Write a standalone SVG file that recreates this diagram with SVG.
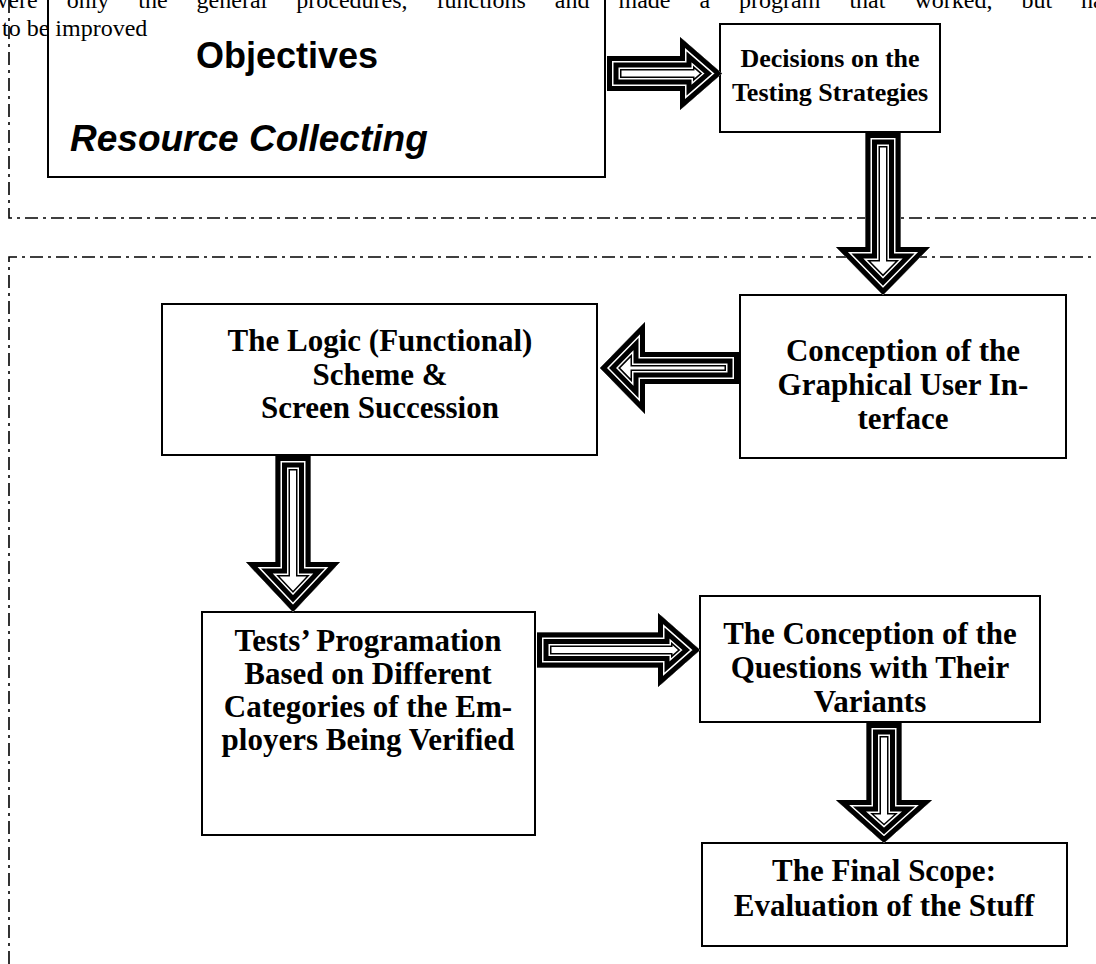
<svg xmlns="http://www.w3.org/2000/svg" width="1096" height="964" viewBox="0 0 1096 964">
<style>
.bg{fill:#fff}
.box{fill:#fff;stroke:#000;stroke-width:2}
.open{fill:none;stroke:#000;stroke-width:2}
.dd{fill:none;stroke:#000;stroke-width:1.6;stroke-dasharray:13 5 3 5}
.body{font-family:"Liberation Serif","Times New Roman",serif;font-size:24px;fill:#000}
.t{font-family:"Liberation Serif","Times New Roman",serif;font-size:31px;font-weight:bold;fill:#000;text-anchor:middle}
.ts{font-family:"Liberation Serif","Times New Roman",serif;font-size:26px;font-weight:bold;fill:#000;text-anchor:middle}
.obj{font-family:"Liberation Sans",Arial,sans-serif;font-weight:bold;fill:#000}
.a0{fill:#fff;stroke:none}
.a1{fill:none;stroke:#000;stroke-width:29;stroke-linejoin:miter;stroke-miterlimit:10}
.a2{fill:none;stroke:#fff;stroke-width:26;stroke-linejoin:miter;stroke-miterlimit:10}
.a3{fill:none;stroke:#000;stroke-width:23;stroke-linejoin:miter;stroke-miterlimit:10}
.a4{fill:none;stroke:#fff;stroke-width:13;stroke-linejoin:miter;stroke-miterlimit:10}
.a5{fill:none;stroke:#000;stroke-width:10;stroke-linejoin:miter;stroke-miterlimit:10}
</style>
<defs>
<polygon id="p1" points="607,56 680,56 680,37 722,73.5 680,110 680,91 607,91"/>
<polygon id="p2" points="865.5,133 900.5,133 900.5,247 930,247 883,295 836,247 865.5,247"/>
<polygon id="p3" points="739,352 645,352 645,322 600,368 645,414 645,384 739,384"/>
<polygon id="p4" points="275.5,456 310.5,456 310.5,562 340,562 293,612 246,562 275.5,562"/>
<polygon id="p5" points="537,632.5 658,632.5 658,613 700,650 658,687 658,667.5 537,667.5"/>
<polygon id="p6" points="866.5,723 901.5,723 901.5,800 932,800 884,843 836,800 866.5,800"/>
<clipPath id="c1"><use href="#p1"/></clipPath>
<clipPath id="c2"><use href="#p2"/></clipPath>
<clipPath id="c3"><use href="#p3"/></clipPath>
<clipPath id="c4"><use href="#p4"/></clipPath>
<clipPath id="c5"><use href="#p5"/></clipPath>
<clipPath id="c6"><use href="#p6"/></clipPath>
</defs>
<rect class="bg" x="0" y="0" width="1096" height="964"/>

<g id="sections">
<path class="dd" d="M9,0 V218 H1096"/>
<path class="dd" d="M9,964 V257 H1096"/>
</g>

<g id="node-objectives">
<rect class="open" x="48" y="-10" width="557" height="187"/>
<text class="obj" x="287" y="68" font-size="36" text-anchor="middle">Objectives</text>
<text class="obj" x="70" y="151" font-size="37" font-style="italic">Resource Collecting</text>
</g>

<g id="intro-text">
<text class="body" x="-9" y="8" word-spacing="23">were only the general procedures, functions and made a program that worked, but had</text>
<text class="body" x="2" y="36">to be improved</text>
</g>

<g id="node-decisions">
<rect class="box" x="720" y="24" width="220" height="108"/>
<text class="ts" x="830" y="67">Decisions on the</text>
<text class="ts" x="830" y="101">Testing Strategies</text>
</g>

<g id="node-conception-gui">
<rect class="box" x="740" y="295" width="326" height="163"/>
<text class="t" x="903" y="361">Conception of the</text>
<text class="t" x="903" y="395">Graphical User In-</text>
<text class="t" x="903" y="429">terface</text>
</g>

<g id="node-logic">
<rect class="box" x="162" y="304" width="435" height="151"/>
<text class="t" x="380" y="351">The Logic (Functional)</text>
<text class="t" x="380" y="385">Scheme &amp;</text>
<text class="t" x="380" y="418">Screen Succession</text>
</g>

<g id="node-tests">
<rect class="box" x="202" y="612" width="333" height="223"/>
<text class="t" x="368" y="651">Tests’ Programation</text>
<text class="t" x="368" y="684">Based on Different</text>
<text class="t" x="368" y="717">Categories of the Em-</text>
<text class="t" x="368" y="750">ployers Being Verified</text>
</g>

<g id="node-questions">
<rect class="box" x="700" y="596" width="340" height="126"/>
<text class="t" x="870" y="644">The Conception of the</text>
<text class="t" x="870" y="678">Questions with Their</text>
<text class="t" x="870" y="712">Variants</text>
</g>

<g id="node-final">
<rect class="box" x="702" y="843" width="365" height="103"/>
<text class="t" x="884" y="881">The Final Scope:</text>
<text class="t" x="884" y="916">Evaluation of the Stuff</text>
</g>

<g id="connectors">
<g clip-path="url(#c1)"><use href="#p1" class="a0"/><use href="#p1" class="a1"/><use href="#p1" class="a2"/><use href="#p1" class="a3"/><use href="#p1" class="a4"/><use href="#p1" class="a5"/></g>
<g clip-path="url(#c2)"><use href="#p2" class="a0"/><use href="#p2" class="a1"/><use href="#p2" class="a2"/><use href="#p2" class="a3"/><use href="#p2" class="a4"/><use href="#p2" class="a5"/></g>
<g clip-path="url(#c3)"><use href="#p3" class="a0"/><use href="#p3" class="a1"/><use href="#p3" class="a2"/><use href="#p3" class="a3"/><use href="#p3" class="a4"/><use href="#p3" class="a5"/></g>
<g clip-path="url(#c4)"><use href="#p4" class="a0"/><use href="#p4" class="a1"/><use href="#p4" class="a2"/><use href="#p4" class="a3"/><use href="#p4" class="a4"/><use href="#p4" class="a5"/></g>
<g clip-path="url(#c5)"><use href="#p5" class="a0"/><use href="#p5" class="a1"/><use href="#p5" class="a2"/><use href="#p5" class="a3"/><use href="#p5" class="a4"/><use href="#p5" class="a5"/></g>
<g clip-path="url(#c6)"><use href="#p6" class="a0"/><use href="#p6" class="a1"/><use href="#p6" class="a2"/><use href="#p6" class="a3"/><use href="#p6" class="a4"/><use href="#p6" class="a5"/></g>
</g>
</svg>
